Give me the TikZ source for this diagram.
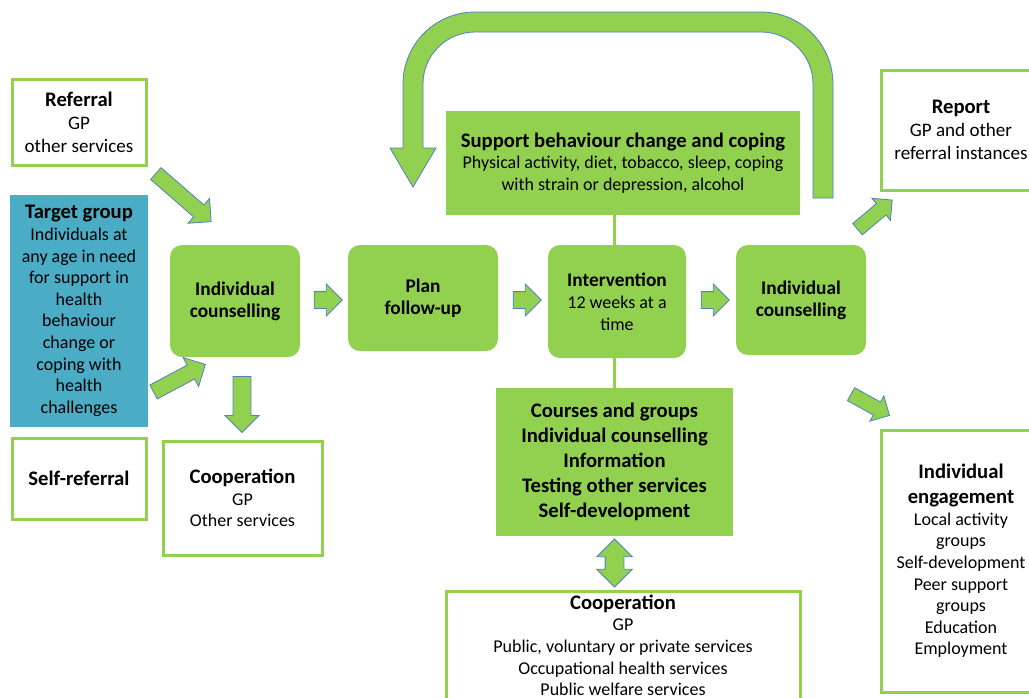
\documentclass[tikz,border=0pt]{standalone}
\usepackage{fontspec}
\setmainfont{Carlito}
\usetikzlibrary{shapes.arrows, positioning}
\definecolor{boxgreen}{RGB}{146,208,80}
\definecolor{arrowblue}{RGB}{79,129,189}
\definecolor{targetblue}{RGB}{75,172,198}
\newcommand{\regfont}{\fontsize{13.5}{16.2}\selectfont}
\newcommand{\widefont}{\fontsize{14.3}{17.2}\selectfont}
\newcommand{\headfont}{\fontsize{14.5}{16.5}\selectfont\bfseries}
\newcommand{\listfont}{\fontsize{15.5}{18.75}\selectfont\bfseries}

\begin{document}
\begin{tikzpicture}[
    x=0.75pt, y=-0.75pt,
    outbox/.style={draw=boxgreen, line width=2.25pt, fill=white, align=center, font=\regfont, inner sep=0pt},
    stepbox/.style={fill=boxgreen, rounded corners=9pt, align=center, font=\headfont, inner sep=0pt},
    greenbox/.style={fill=boxgreen, align=center, inner sep=0pt},
    blockarrow/.style={single arrow, draw=arrowblue, fill=boxgreen, line width=0.6pt, inner xsep=0pt, inner ysep=5.6pt,
        single arrow head extend=6.4pt, minimum width=24pt, minimum height=#1},
    flowarrow/.style={blockarrow=21pt, inner ysep=6pt, minimum width=23.25pt, single arrow head extend=5.6pt},
    slimarrow/.style={blockarrow=#1, inner ysep=5.25pt, minimum width=21pt, single arrow head extend=5.25pt},
    link/.style={draw=boxgreen, line width=2.25pt}
]
    \clip (0,0) rectangle (1029,697);
    \fill[white] (0,0) rectangle (1029,697);

    % Left column
    \node[outbox, font=\widefont, minimum width=100.5pt, minimum height=64.5pt] (referral) at (79,122) {{\listfont Referral}\\GP\\other services};
    \node[fill=targetblue, align=center, font=\regfont, inner sep=0pt, minimum width=103.5pt, minimum height=174pt] (target) at (79,311)
        {{\listfont Target group}\\Individuals at\\any age in need\\for support in\\health\\behaviour\\change or\\coping with\\health\\challenges};
    \node[outbox, minimum width=100.5pt, minimum height=60.75pt] (selfref) at (79,478.5) {{\listfont Self-referral}};

    % Main row
    \node[stepbox, minimum width=97.5pt, minimum height=84pt] (counsel1) at (235,301) {Individual\\counselling};
    \node[stepbox, minimum width=112.5pt, minimum height=79.5pt] (plan) at (423,298) {Plan\\follow-up};
    \node[stepbox, minimum width=103.5pt, minimum height=84.75pt] (inter) at (617,301.5) {Intervention\\{\regfont\mdseries 12 weeks at a}\\{\regfont\mdseries time}};
    \node[stepbox, minimum width=97.5pt, minimum height=82.5pt] (counsel2) at (801,300) {Individual\\counselling};

    \node[outbox, minimum width=119.25pt, minimum height=85.5pt] (coop1) at (242.5,498) {{\listfont Cooperation}\\GP\\Other services};

    % Middle column
    \node[greenbox, font=\regfont, minimum width=265.5pt, minimum height=78pt] (support) at (623,163)
        {{\listfont Support behaviour change and coping}\\Physical activity, diet, tobacco, sleep, coping\\with strain or depression, alcohol};
    \node[greenbox, font=\listfont, minimum width=177.75pt, minimum height=111pt] (courses) at (614.5,462)
        {Courses and groups\\Individual counselling\\Information\\Testing other services\\Self-development};
    \node[outbox, anchor=north, minimum width=265.5pt, inner ysep=2.5pt, text depth=25pt] (coop2) at (623,590)
        {{\listfont Cooperation}\\GP\\Public, voluntary or private services\\Occupational health services\\Public welfare services};

    % Right column
    \node[outbox, font=\widefont, minimum width=120pt, minimum height=90pt] (report) at (961,130) {{\listfont Report}\\GP and other\\referral instances};
    \node[outbox, minimum width=120pt, minimum height=196.5pt] (engage) at (961,561)
        {{\listfont Individual}\\[2.5pt]{\listfont engagement}\\Local activity\\groups\\Self-development\\Peer support\\groups\\Education\\Employment};

    % Links
    \draw[link] (support.south -| courses.north) -- (inter.north -| courses.north);
    \draw[link] (inter.south -| courses.north) -- (courses.north);

    % Block arrows
    \node[blockarrow=55pt, rotate=-41] (arrref) at (180.5,195) {};
    \node[blockarrow=44pt, rotate=28] (arrtarget) at (176,380) {};
    \node[blockarrow=42pt, inner ysep=6.4pt, minimum width=24.75pt, single arrow head extend=6pt, rotate=-90] (arrcoop) at (242,400) {};
    \node[flowarrow] (arrplan) at (324,300) {};
    \node[flowarrow] (arrinter) at (523,300) {};
    \node[flowarrow] (arrcounsel) at (711,300) {};
    \node[slimarrow=34pt, rotate=40] (arrreport) at (872,217) {};
    \node[slimarrow=33pt, rotate=-29] (arrengage) at (867,403) {};
    \node[double arrow, draw=arrowblue, fill=boxgreen, line width=0.6pt, inner xsep=0pt, inner ysep=6.75pt, minimum width=26pt,
          double arrow head extend=6.25pt, minimum height=36pt, rotate=90] (arrcoop2) at (614.5,563) {};

    % Feedback loop
    \draw[draw=arrowblue, fill=boxgreen, line width=0.6pt]
        (833,198) -- (833,84) arc[start angle=0, end angle=90, radius=54pt]
        -- (475,12) arc[start angle=90, end angle=180, radius=54pt]
        -- (403,148) -- (390,148) -- (413,187) -- (436,148) -- (423,148)
        -- (423,84) arc[start angle=180, end angle=90, radius=39pt]
        -- (761,32) arc[start angle=90, end angle=0, radius=39pt]
        -- (813,198) -- cycle;
\end{tikzpicture}
\end{document}
